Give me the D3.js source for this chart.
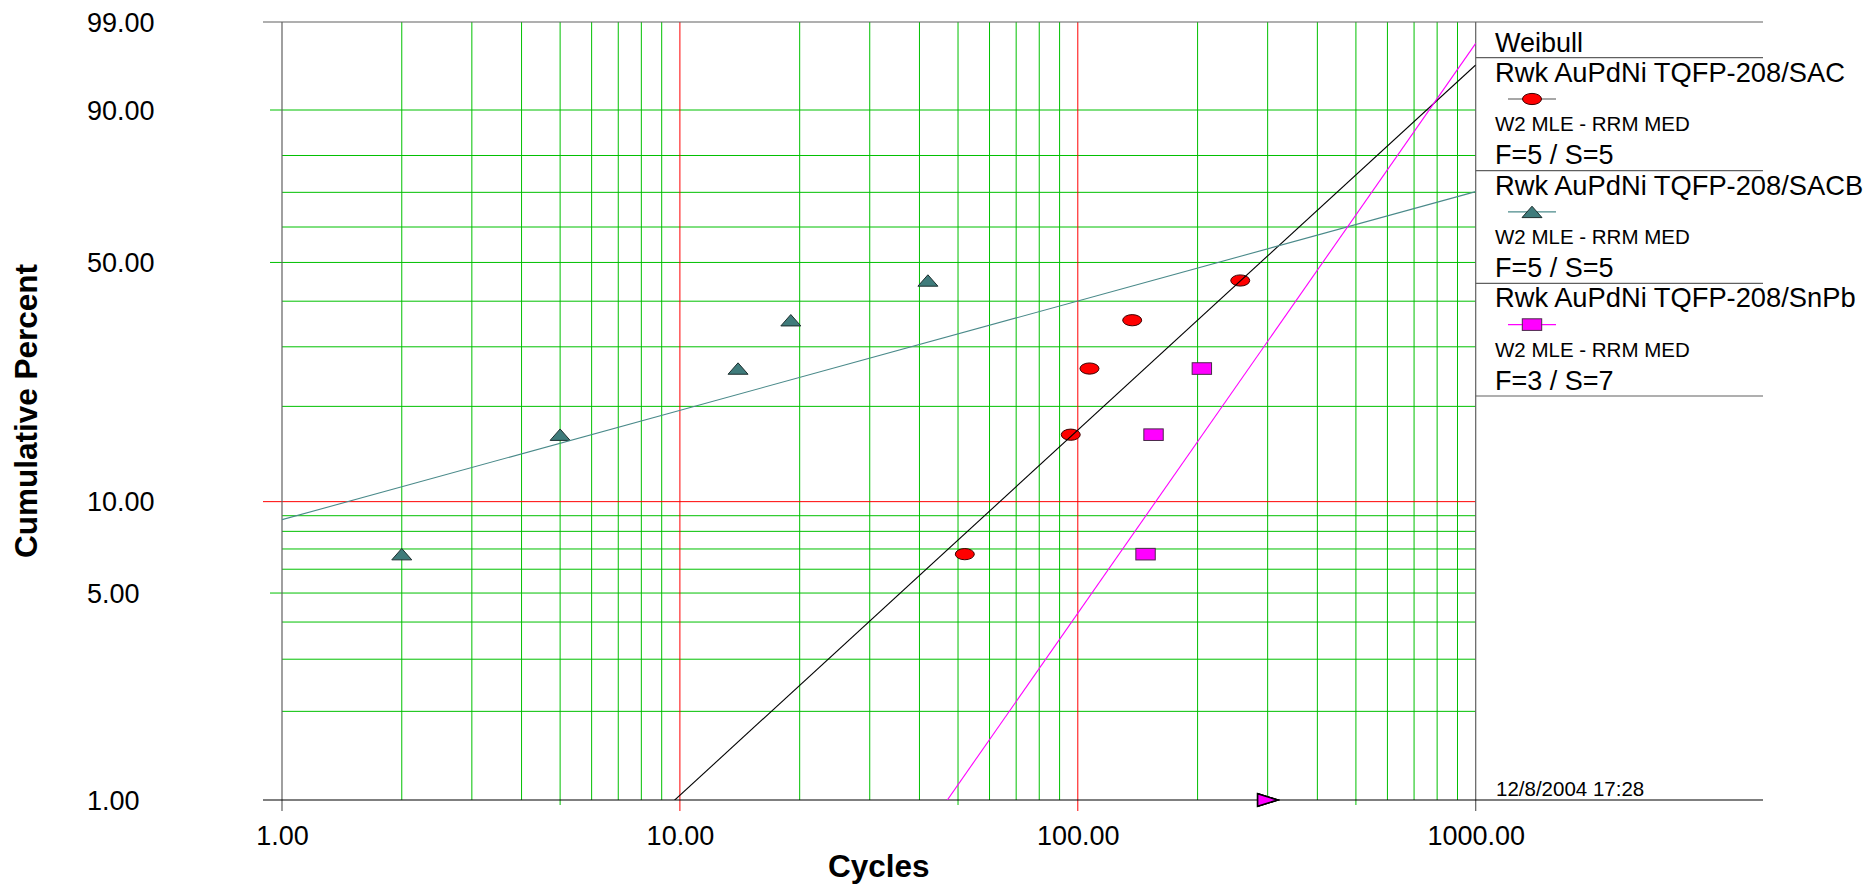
<!DOCTYPE html>
<html>
<head>
<meta charset="utf-8">
<script src="https://cdn.jsdelivr.net/npm/d3@7"></script>
<style>
  html, body { margin: 0; padding: 0; background: #ffffff; }
  svg { display: block; font-family: "Liberation Sans", Arial, sans-serif; }
</style>
</head>
<body>
<svg id="chart" width="1873" height="889"></svg>
<script>
// ---- Weibull probability plot data ----
const seriesNames = ["Rwk AuPdNi TQFP-208/SAC", "Rwk AuPdNi TQFP-208/SACB", "Rwk AuPdNi TQFP-208/SnPb"];
const fitMethods = ["W2 MLE - RRM MED", "W2 MLE - RRM MED", "W2 MLE - RRM MED"];
const failureCounts = ["F=5 / S=5", "F=5 / S=5", "F=3 / S=7"];

// failure times (cycles)
const sacCycles  = [52, 96, 107, 137, 256];
const sacbCycles = [2, 5, 14, 19, 42];
const snpbCycles = [148, 155, 205];
// median ranks (%), N = 10
const medianRanks = [6.73, 16.35, 25.96, 35.58, 45.19];
// suspension times (cycles)
const suspensionCycles = [300, 300, 300];

// fitted Weibull parameters
const betas = [1.249, 0.374, 1.949];
const etas  = [386, 600, 498];

// axis ticks
const xTicks = [1, 10, 100, 1000];
const xTickLabels = ["1.00", "10.00", "100.00", "1000.00"];
const yTicks = [1, 5, 10, 50, 90, 99];
const yTickLabels = ["1.00", "5.00", "10.00", "50.00", "90.00", "99.00"];

// grid
const xGridGreen = [2, 3, 4, 5, 6, 7, 8, 9, 20, 30, 40, 50, 60, 70, 80, 90, 200, 300, 400, 500, 600, 700, 800, 900];
const xGridRed = [10, 100];
const xGridLong = [5, 50, 500];
const yGridGreen = [2, 3, 4, 5, 6, 7, 8, 9, 20, 30, 40, 50, 60, 70, 80, 90];
const yGridRed = [10];
const yGridLong = [5, 50, 90];

const colors = {
  grid: "#00c000",
  red: "#ff0000",
  sacLine: "#000000",
  sacFill: "#ff0000",
  sacbLine: "#4a8a8a",
  sacbFill: "#3f7b7b",
  snpbLine: "#ff00ff",
  snpbFill: "#ff00ff",
  frame: "#606060"
};

const svg = d3.select("#chart");
const L = 282, R = 1475.7, T = 22, B = 800, LEG_R = 1763;

// Weibull probability transform
const weib = p => Math.log(-Math.log(1 - p / 100));

const x = d3.scaleLog().domain([1, 1000]).range([L, R]);
const yLin = d3.scaleLinear().domain([weib(1), weib(99)]).range([B, T]);
const y = p => yLin(weib(p));

// ---- grid ----
const grid = svg.append("g").attr("fill", "none").attr("stroke-width", 1);

grid.selectAll("line.vg").data(xGridGreen).join("line")
  .attr("x1", d => x(d)).attr("x2", d => x(d))
  .attr("y1", T).attr("y2", d => xGridLong.includes(d) ? B + 5 : B)
  .attr("stroke", colors.grid);

grid.selectAll("line.hg").data(yGridGreen).join("line")
  .attr("x1", d => yGridLong.includes(d) ? 270 : L).attr("x2", R)
  .attr("y1", d => y(d)).attr("y2", d => y(d))
  .attr("stroke", colors.grid);

grid.selectAll("line.vr").data(xGridRed).join("line")
  .attr("x1", d => x(d)).attr("x2", d => x(d))
  .attr("y1", T).attr("y2", B + 11)
  .attr("stroke", colors.red);

grid.selectAll("line.hr").data(yGridRed).join("line")
  .attr("x1", 263).attr("x2", R)
  .attr("y1", d => y(d)).attr("y2", d => y(d))
  .attr("stroke", colors.red);

// ---- frame ----
const frame = svg.append("g").attr("fill", "none");
frame.append("line").attr("x1", 263).attr("x2", LEG_R).attr("y1", y(99)).attr("y2", y(99))
  .attr("stroke", colors.frame).attr("stroke-width", 1.2);
frame.append("line").attr("x1", x(1)).attr("x2", x(1)).attr("y1", T).attr("y2", B + 11)
  .attr("stroke", colors.frame).attr("stroke-width", 1.2);
frame.append("line").attr("x1", x(1000)).attr("x2", x(1000)).attr("y1", T).attr("y2", B + 11)
  .attr("stroke", colors.frame).attr("stroke-width", 1.2);
frame.append("line").attr("x1", 263).attr("x2", LEG_R).attr("y1", y(1)).attr("y2", y(1))
  .attr("stroke", "#000").attr("stroke-width", 1.2);

// ---- axes (labels) ----
const xAxis = d3.axisBottom(x).tickValues(xTicks)
  .tickFormat((d, i) => xTickLabels[i]).tickSize(0).tickPadding(26);
const gx = svg.append("g").attr("transform", `translate(0,${B})`).call(xAxis);
gx.select(".domain").remove();
gx.selectAll("text").attr("font-size", 27).attr("fill", "#000")
  .attr("font-family", "'Liberation Sans', Arial, sans-serif");

const yAxis = d3.axisLeft(yLin).tickValues(yTicks.map(weib))
  .tickFormat((d, i) => yTickLabels[i]).tickSize(0);
const gy = svg.append("g").attr("transform", `translate(${L},0)`).call(yAxis);
gy.select(".domain").remove();
gy.selectAll("text").attr("font-size", 27).attr("fill", "#000")
  .attr("font-family", "'Liberation Sans', Arial, sans-serif")
  .attr("text-anchor", "start").attr("x", 87 - L).attr("dy", "0.34em");

svg.append("text").attr("x", (L + R) / 2).attr("y", 877)
  .attr("text-anchor", "middle").attr("font-size", 31.5).attr("font-weight", "bold")
  .text("Cycles");
svg.append("text").attr("transform", `translate(37,${(T + B) / 2}) rotate(-90)`)
  .attr("text-anchor", "middle").attr("font-size", 31.5).attr("font-weight", "bold")
  .text("Cumulative Percent");

// ---- markers ----
const marks = svg.append("g");
const ellipse = (g, cx, cy) => g.append("ellipse").attr("cx", cx).attr("cy", cy)
  .attr("rx", 9.5).attr("ry", 5.6).attr("fill", colors.sacFill).attr("stroke", "#3a0000").attr("stroke-width", 1);
const triUp = (g, cx, cy) => g.append("path")
  .attr("d", `M${cx - 10},${cy + 5.7} L${cx},${cy - 5.7} L${cx + 10},${cy + 5.7} Z`)
  .attr("fill", colors.sacbFill).attr("stroke", "#1c2e2e").attr("stroke-width", 1);
const rectMark = (g, cx, cy) => g.append("rect").attr("x", cx - 9.7).attr("y", cy - 5.8)
  .attr("width", 19.4).attr("height", 11.6)
  .attr("fill", colors.snpbFill).attr("stroke", "#4a2a4a").attr("stroke-width", 1);

sacCycles.forEach((c, i) => ellipse(marks, x(c), y(medianRanks[i])));
sacbCycles.forEach((c, i) => triUp(marks, x(c), y(medianRanks[i])));
snpbCycles.forEach((c, i) => rectMark(marks, x(c), y(medianRanks[i])));

// suspension arrows on the lower edge
const suspFills = [colors.sacFill, colors.sacbFill, colors.snpbFill];
suspensionCycles.forEach((c, i) => {
  const cx = x(c), cy = y(1);
  marks.append("path")
    .attr("d", `M${cx - 10},${cy - 6.3} L${cx + 10},${cy} L${cx - 10},${cy + 6.3} Z`)
    .attr("fill", suspFills[i]).attr("stroke", "#000").attr("stroke-width", 1.5);
});

// ---- fitted lines ----
svg.append("clipPath").attr("id", "plotClip")
  .append("rect").attr("x", L).attr("y", T).attr("width", R - L).attr("height", B - T);
const fitColors = [colors.sacLine, colors.sacbLine, colors.snpbLine];
const fitLine = (beta, eta) => d3.line()
  .x(t => x(t))
  .y(t => yLin(beta * (Math.log(t) - Math.log(eta))));
const fits = svg.append("g").attr("clip-path", "url(#plotClip)").attr("fill", "none");
betas.forEach((b, i) => {
  fits.append("path").attr("d", fitLine(b, etas[i])(x.domain()))
    .attr("stroke", fitColors[i]).attr("stroke-width", 1.1);
});

// ---- legend ----
const leg = svg.append("g");
const legX = 1495;
leg.append("text").attr("x", legX).attr("y", 52).attr("font-size", 27).text("Weibull");
const blockTop = [57.7, 170.6, 283.3];
const legLineColors = ["#505050", colors.sacbLine, colors.snpbLine];
const legMarkers = [ellipse, triUp, rectMark];
blockTop.forEach((top, i) => {
  leg.append("line").attr("x1", R).attr("x2", LEG_R).attr("y1", top).attr("y2", top)
    .attr("stroke", colors.frame).attr("stroke-width", 1.2);
  leg.append("text").attr("x", legX).attr("y", top + 24).attr("font-size", 27.3).text(seriesNames[i]);
  leg.append("line").attr("x1", 1508).attr("x2", 1556).attr("y1", top + 41.3).attr("y2", top + 41.3)
    .attr("stroke", legLineColors[i]).attr("stroke-width", 1.1);
  legMarkers[i](leg, 1532, top + 41.3);
  leg.append("text").attr("x", legX).attr("y", top + 73.3).attr("font-size", 20.5).text(fitMethods[i]);
  leg.append("text").attr("x", legX).attr("y", top + 106.6).attr("font-size", 27).text(failureCounts[i]);
});
leg.append("line").attr("x1", R).attr("x2", LEG_R).attr("y1", 396).attr("y2", 396)
  .attr("stroke", colors.frame).attr("stroke-width", 1.2);

leg.append("text").attr("x", 1496).attr("y", 795.5).attr("font-size", 20.5).text("12/8/2004 17:28");
</script>
</body>
</html>
